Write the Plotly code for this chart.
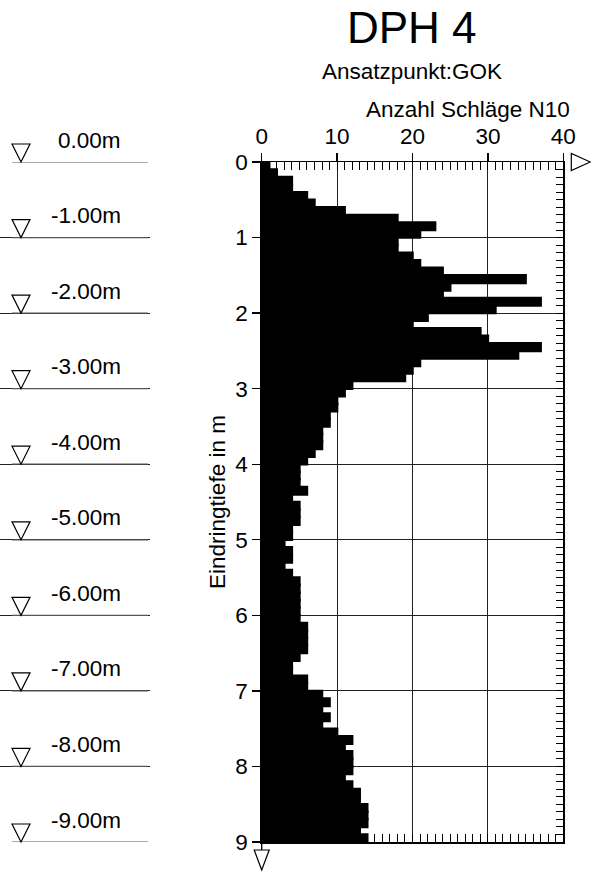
import plotly.graph_objects as go

# ---------------- data ----------------
depth_step = 0.1
n10_values = [
    1, 2, 4, 4, 6, 7, 11, 18, 23, 21,
    18, 18, 20, 21, 24, 35, 25, 24, 37, 31,
    22, 20, 29, 30, 37, 34, 21, 20, 19, 12,
    11, 10, 10, 9, 9, 8, 8, 8, 7, 6,
    5, 5, 5, 6, 4, 5, 5, 5, 4, 4,
    3, 4, 4, 3, 4, 5, 5, 5, 5, 5,
    5, 6, 6, 6, 6, 5, 4, 4, 6, 6,
    8, 9, 8, 9, 8, 10, 12, 11, 12, 12,
    12, 11, 12, 13, 13, 14, 14, 14, 13, 14,
]
depth_centers = [round(depth_step * i + depth_step / 2, 2) for i in range(len(n10_values))]

x_ticks = [0, 10, 20, 30, 40]
y_ticks = [0, 1, 2, 3, 4, 5, 6, 7, 8, 9]
level_depths = [0, 1, 2, 3, 4, 5, 6, 7, 8, 9]
level_labels = ["0.00m", "-1.00m", "-2.00m", "-3.00m", "-4.00m",
                "-5.00m", "-6.00m", "-7.00m", "-8.00m", "-9.00m"]

title_text = "DPH 4"
subtitle_text = "Ansatzpunkt:GOK"
x_title = "Anzahl Schläge N10"
y_title = "Eindringtiefe in m"

# ---------------- layout helpers ----------------
W, H = 591, 872
FONT = "Liberation Sans, Arial, sans-serif"
FS = 22.5
M_T = 162
M_B = H - 842
PH = H - M_T - M_B
X_RANGE = [0, 40]
Y_RANGE = [9, 0]
x_dom = [261.7 / W, 563.3 / W]

def paper_y(px):
    return 1 + (M_T - px) / PH

def paper_x(px):
    return px / W

def x_to_paper(v):
    return x_dom[0] + (v - X_RANGE[0]) / (X_RANGE[1] - X_RANGE[0]) * (x_dom[1] - x_dom[0])

def depth_to_paper(d):
    return (Y_RANGE[0] - d) / (Y_RANGE[0] - Y_RANGE[1])

fig = go.Figure()

fig.add_trace(go.Bar(
    x=n10_values, y=depth_centers, orientation="h", width=depth_step,
    marker=dict(color="black", line=dict(color="black", width=2.5)),
    hoverinfo="x+y", showlegend=False,
))
# dummy traces to initialise helper axes
fig.add_trace(go.Scatter(x=[None], y=[None], xaxis="x2", yaxis="y", showlegend=False, hoverinfo="skip"))
fig.add_trace(go.Scatter(x=[None], y=[None], xaxis="x3", yaxis="y", showlegend=False, hoverinfo="skip"))
fig.add_trace(go.Scatter(x=[None], y=[None], xaxis="x", yaxis="y2", showlegend=False, hoverinfo="skip"))

fig.update_layout(
    width=W, height=H,
    margin=dict(l=0, r=0, t=M_T, b=M_B, pad=0),
    paper_bgcolor="white", plot_bgcolor="white",
    font=dict(family=FONT, size=FS, color="black"),
    showlegend=False,
    bargap=0,
    xaxis=dict(
        domain=x_dom, side="top", range=X_RANGE, tickvals=x_ticks,
        ticks="outside", ticklen=8, tickwidth=1.3, tickcolor="black",
        showline=True, linecolor="black", linewidth=1.5,
        showgrid=True, gridcolor="#222", gridwidth=1, zeroline=False,
        minor=dict(ticks="inside", dtick=1, ticklen=8, tickwidth=1, tickcolor="black", showgrid=False),
        tickfont=dict(size=FS), automargin=False, fixedrange=True,
    ),
    xaxis3=dict(
        overlaying="x", side="bottom", anchor="y", domain=x_dom, range=X_RANGE,
        dtick=1, ticks="inside", ticklen=8, tickwidth=1, tickcolor="black",
        showticklabels=False, showline=True, linecolor="black", linewidth=1.5,
        showgrid=False, zeroline=False, automargin=False, fixedrange=True,
    ),
    xaxis2=dict(
        domain=[0, 150 / W], range=[0, 150], anchor="y", visible=False, fixedrange=True,
    ),
    yaxis=dict(
        range=Y_RANGE, tickvals=y_ticks, ticks="outside", ticklen=8, tickwidth=1.3,
        tickcolor="black", showline=True, linecolor="black", linewidth=1.5,
        showgrid=True, gridcolor="#222", gridwidth=1, zeroline=False,
        title=dict(text=y_title, font=dict(size=FS), standoff=3),
        tickfont=dict(size=FS), automargin=False, fixedrange=True,
    ),
    yaxis2=dict(
        overlaying="y", side="right", anchor="x", range=Y_RANGE, dtick=0.1,
        ticks="inside", ticklen=7, tickwidth=1, tickcolor="black",
        showticklabels=False, showline=True, linecolor="black", linewidth=1.5,
        showgrid=False, zeroline=False, automargin=False, fixedrange=True,
    ),
)

annotations = [
    dict(text=title_text, xref="paper", yref="paper", x=paper_x(412), y=paper_y(27),
         xanchor="center", yanchor="middle", showarrow=False, font=dict(size=44)),
    dict(text=subtitle_text, xref="paper", yref="paper", x=paper_x(412), y=paper_y(71),
         xanchor="center", yanchor="middle", showarrow=False, font=dict(size=FS)),
    dict(text=x_title, xref="paper", yref="paper", x=paper_x(468), y=paper_y(109),
         xanchor="center", yanchor="middle", showarrow=False, font=dict(size=FS)),
]
shapes = []
TRI = dict(color="black", width=1.2)
for d, lab in zip(level_depths, level_labels):
    annotations.append(dict(text=lab, xref="x2", yref="y", x=123, y=d,
                            xanchor="right", yanchor="middle", yshift=22,
                            showarrow=False, font=dict(size=FS)))
    shapes.append(dict(type="line", xref="x2", yref="y", x0=12, x1=148, y0=d, y1=d,
                       line=dict(color="#555", width=1.2)))
    shapes.append(dict(type="path", xref="paper", yref="paper", xsizemode="pixel", ysizemode="pixel",
                       xanchor=paper_x(21), yanchor=depth_to_paper(d), path="M-9,18 L9,18 L0,0 Z",
                       line=TRI, fillcolor="rgba(0,0,0,0)"))

# decorative arrows at axis ends
shapes.append(dict(type="path", xref="paper", yref="paper", xsizemode="pixel", ysizemode="pixel",
                   xanchor=x_to_paper(x_ticks[-1]), yanchor=depth_to_paper(y_ticks[0]),
                   path="M8,8.5 L8,-8.5 L27,0 Z", line=TRI, fillcolor="rgba(0,0,0,0)"))
shapes.append(dict(type="path", xref="paper", yref="paper", xsizemode="pixel", ysizemode="pixel",
                   xanchor=x_to_paper(x_ticks[0]), yanchor=depth_to_paper(y_ticks[-1]),
                   path="M0,0 L0,-8", line=dict(color="black", width=1.3)))
shapes.append(dict(type="path", xref="paper", yref="paper", xsizemode="pixel", ysizemode="pixel",
                   xanchor=x_to_paper(x_ticks[0]), yanchor=depth_to_paper(y_ticks[-1]),
                   path="M-7.5,-8 L7.5,-8 L0,-28 Z", line=TRI, fillcolor="rgba(0,0,0,0)"))

fig.update_layout(annotations=annotations, shapes=shapes)

# remove the default page margin so the 591x872 figure fills the window exactly
fig.write_html(
    "out.html",
    config={"displayModeBar": False, "staticPlot": True},
    post_script="document.body.style.margin='0px';document.body.style.overflow='hidden';",
)
